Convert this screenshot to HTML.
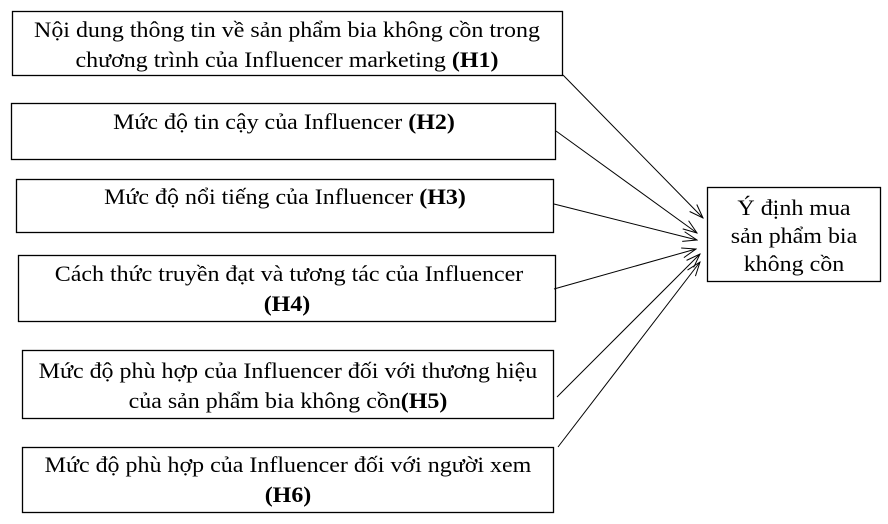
<!DOCTYPE html>
<html><head><meta charset="utf-8"><style>
html,body{margin:0;padding:0;background:#fff;}
svg{display:block;}
text{font-family:"Liberation Serif",serif;font-size:22px;fill:#000;transform-box:fill-box;transform-origin:center;transform:scaleX(1.09);}
</style></head><body>
<svg width="888" height="524" viewBox="0 0 888 524" xmlns="http://www.w3.org/2000/svg">
<defs><marker id="a" markerWidth="16" markerHeight="12" refX="15" refY="6" orient="auto" markerUnits="userSpaceOnUse"><path d="M1,1 L15,6 L1,11" fill="none" stroke="#000" stroke-width="1"/></marker></defs>
<g fill="none" stroke="#000" stroke-width="1.3">
<rect x="12.5" y="11.5" width="550" height="64"/>
<rect x="11.5" y="103.5" width="544" height="56"/>
<rect x="16.5" y="179.5" width="537" height="53"/>
<rect x="18.5" y="255.5" width="537" height="66"/>
<rect x="22.5" y="350.5" width="531" height="68"/>
<rect x="22.5" y="447.5" width="531" height="65"/>
<rect x="707.5" y="187.5" width="173" height="94"/>
</g>
<g stroke="#000" stroke-width="1" marker-end="url(#a)">
<line x1="563" y1="75" x2="703" y2="218"/>
<line x1="556" y1="131" x2="697" y2="233"/>
<line x1="554" y1="204" x2="697" y2="240"/>
<line x1="554" y1="289" x2="696" y2="249"/>
<line x1="557" y1="397" x2="700" y2="254"/>
<line x1="558" y1="447" x2="700" y2="262"/>
</g>
<g text-anchor="middle">
<text x="287" y="37">Nội dung thông tin về sản phẩm bia không cồn trong</text>
<text x="287" y="67">chương trình của Influencer marketing <tspan font-weight="bold">(H1)</tspan></text>
<text x="284" y="129">Mức độ tin cậy của Influencer <tspan font-weight="bold">(H2)</tspan></text>
<text x="285" y="204">Mức độ nổi tiếng của Influencer <tspan font-weight="bold">(H3)</tspan></text>
<text x="289" y="281">Cách thức truyền đạt và tương tác của Influencer</text>
<text x="287" y="311" font-weight="bold">(H4)</text>
<text x="288" y="378">Mức độ phù hợp của Influencer đối với thương hiệu</text>
<text x="288" y="408">của sản phẩm bia không cồn<tspan font-weight="bold">(H5)</tspan></text>
<text x="288" y="472">Mức độ phù hợp của Influencer đối với người xem</text>
<text x="288" y="502" font-weight="bold">(H6)</text>
<text x="794" y="215">Ý định mua</text>
<text x="794" y="243">sản phẩm bia</text>
<text x="794" y="271">không cồn</text>
</g>
</svg>
</body></html>
